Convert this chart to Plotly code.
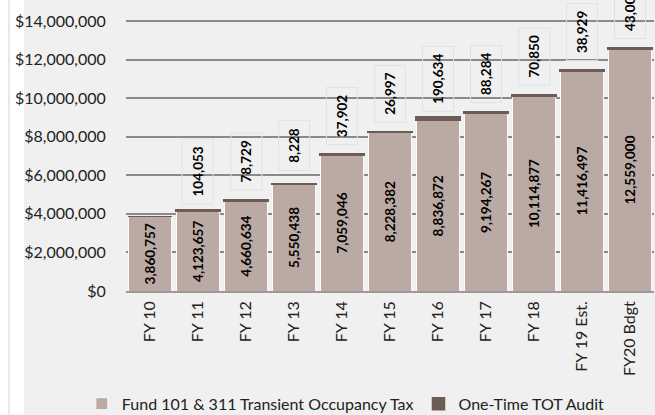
import plotly.graph_objects as go

categories = ["FY 10", "FY 11", "FY 12", "FY 13", "FY 14", "FY 15", "FY 16",
              "FY 17", "FY 18", "FY 19 Est.", "FY20 Bdgt"]
tot_tax = [3860757, 4123657, 4660634, 5550438, 7059046, 8228382, 8836872,
           9194267, 10114877, 11416497, 12559000]
one_time_audit = [None, 104053, 78729, 8228, 37902, 26997, 190634,
                  88284, 70850, 38929, 43000]
y_ticks = [0, 2000000, 4000000, 6000000, 8000000, 10000000, 12000000, 14000000]
y_tick_labels = ["$0", "$2,000,000", "$4,000,000", "$6,000,000", "$8,000,000",
                 "$10,000,000", "$12,000,000", "$14,000,000"]

FONT = "Lato"
BASE = "#bbaaa3"
CAP = "#6d5c56"
BG = "#f0f0f0"

fig = go.Figure()
fig.add_trace(go.Bar(
    x=categories, y=tot_tax, name="Fund 101 & 311 Transient Occupancy Tax",
    marker=dict(color=BASE, line=dict(color="#fafafa", width=1)),
    text=[f"{v:,}" for v in tot_tax], textposition="inside",
    insidetextanchor="middle", textangle=-90,
    textfont=dict(family=FONT, size=13.5, color="#000", weight="bold"),
    hoverinfo="skip",
))
fig.add_trace(go.Bar(
    x=categories, y=[v if v is not None else 0 for v in one_time_audit],
    name="One-Time TOT Audit",
    marker=dict(color=CAP, line=dict(color=CAP, width=1.5)),
    hoverinfo="skip",
))

for cat, base, extra in zip(categories, tot_tax, one_time_audit):
    if extra is None:
        continue
    fig.add_annotation(
        x=cat, y=base + extra, xref="x", yref="y",
        text=f"{extra:,}", textangle=-90, showarrow=False,
        yshift=38, font=dict(family=FONT, size=13.5, color="#000", weight="bold"),
        bordercolor="#dde3ec", borderwidth=1, borderpad=7,
        bgcolor="rgba(0,0,0,0)",
    )

# white strip with faint border on the far left (cropped chart frame)
fig.add_shape(type="rect", xref="paper", yref="paper",
              x0=-126 / 528, x1=(24 - 126) / 528, y0=-123.5 / 291.5, y1=1,
              fillcolor="white", line=dict(width=0), layer="below")
fig.add_shape(type="line", xref="paper", yref="paper",
              x0=(9 - 126) / 528, x1=(9 - 126) / 528, y0=-123.5 / 291.5, y1=1,
              line=dict(color="#dbe2eb", width=1.5), layer="below")

fig.update_layout(
    width=655, height=415,
    margin=dict(l=126, r=1, t=0, b=123.5),
    paper_bgcolor=BG, plot_bgcolor=BG,
    barmode="stack", bargap=0.09,
    font=dict(family=FONT, size=16, color="#222"),
    showlegend=True,
    legend=dict(orientation="h", xref="container", yref="container",
                x=0.528, xanchor="center", y=0.027, yanchor="middle",
                traceorder="normal",
                font=dict(family=FONT, size=16, color="#222"),
                bgcolor="rgba(0,0,0,0)", itemwidth=30),
    xaxis=dict(tickangle=-90, ticks="outside", ticklen=2,
               tickcolor="rgba(0,0,0,0)", showline=True, linecolor="#999999",
               linewidth=1.5, tickfont=dict(family=FONT, size=16, color="#222")),
    yaxis=dict(range=[0, 15090000], tickvals=y_ticks, ticktext=y_tick_labels,
               showgrid=True, gridcolor="#8a8a8a", gridwidth=1.5,
               zeroline=False, ticks="outside", ticklen=16,
               tickcolor="rgba(0,0,0,0)",
               tickfont=dict(family=FONT, size=16, color="#222")),
)

fig.write_html(
    "out.html",
    config={"displayModeBar": False},
    post_script=("document.body.style.margin='0';"
                 "document.body.style.overflow='hidden';"
                 "document.documentElement.style.overflow='hidden';"),
)
